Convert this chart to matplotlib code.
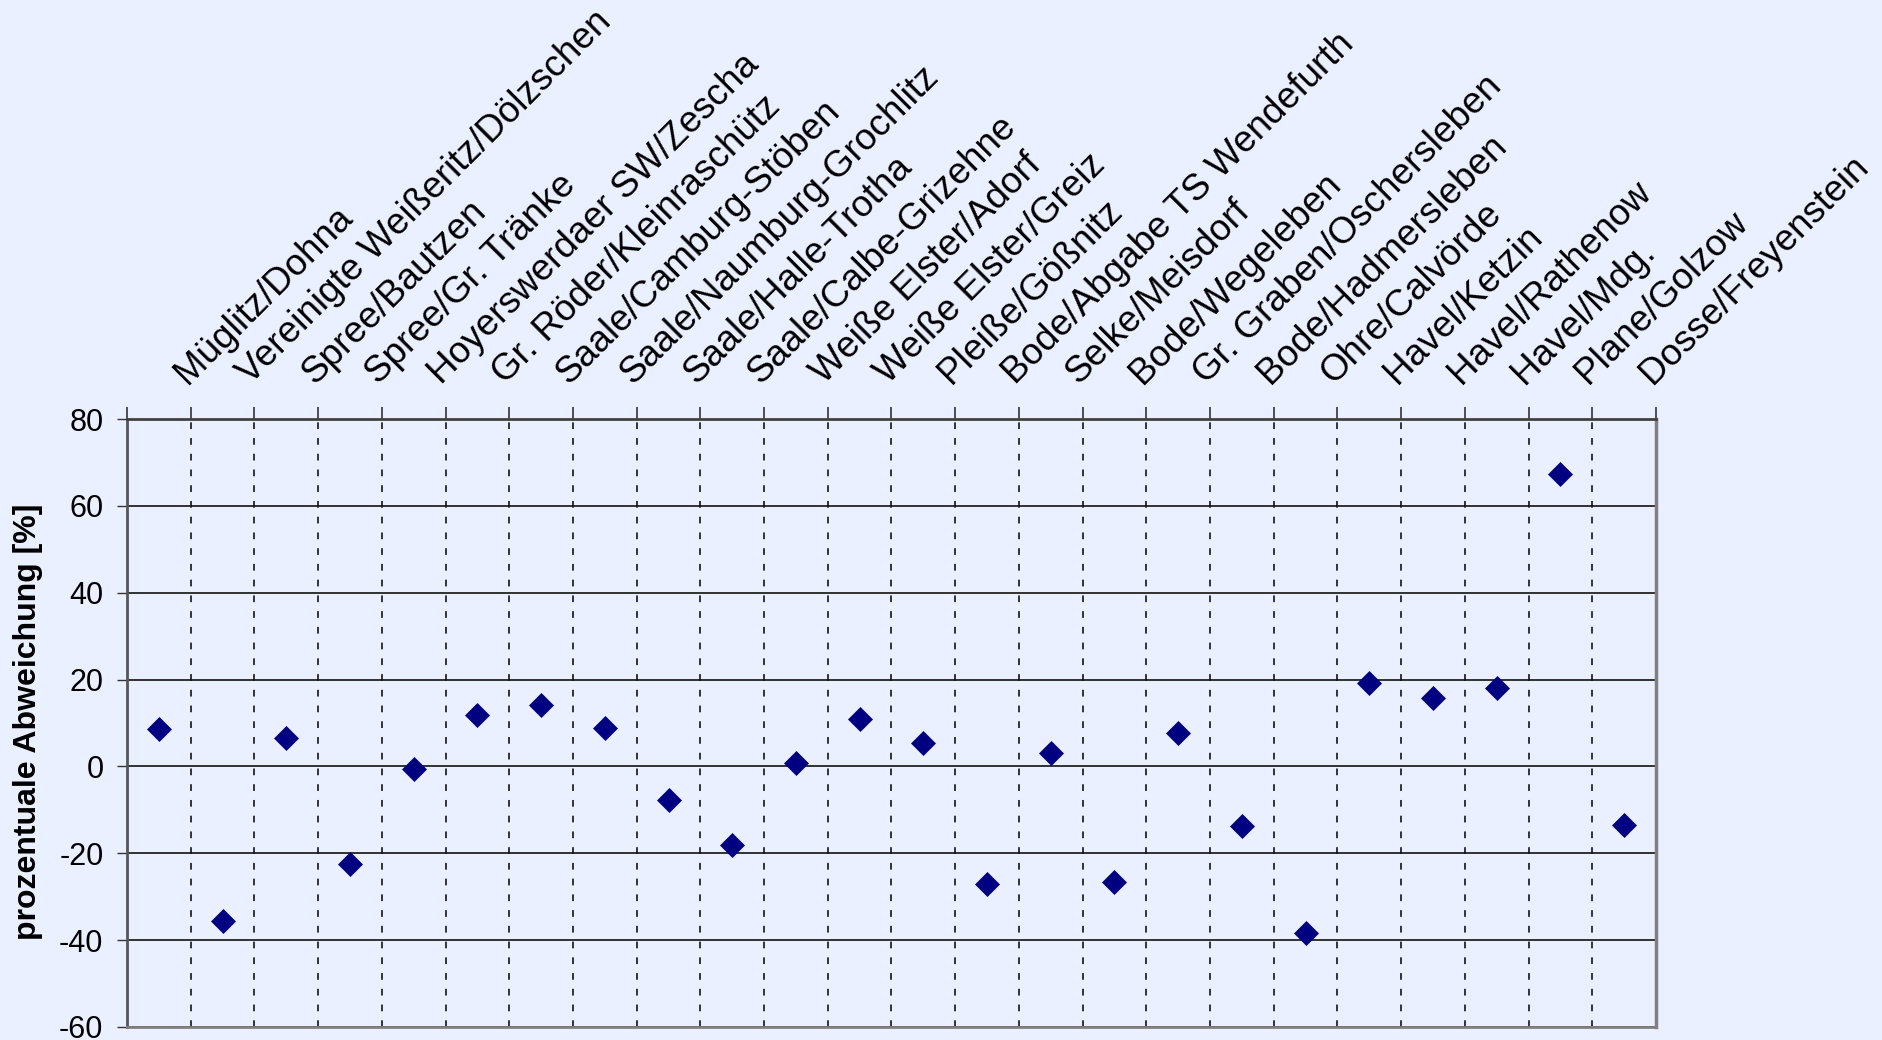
import matplotlib
matplotlib.use("Agg")
import matplotlib.pyplot as plt
from matplotlib.transforms import ScaledTranslation, blended_transform_factory

# stations (Pegel) and percentage deviation
stations = [
    "Müglitz/Dohna", "Vereinigte Weißeritz/Dölzschen", "Spree/Bautzen",
    "Spree/Gr. Tränke", "Hoyerswerdaer SW/Zescha", "Gr. Röder/Kleinraschütz",
    "Saale/Camburg-Stöben", "Saale/Naumburg-Grochlitz", "Saale/Halle-Trotha",
    "Saale/Calbe-Grizehne", "Weiße Elster/Adorf", "Weiße Elster/Greiz",
    "Pleiße/Gößnitz", "Bode/Abgabe TS Wendefurth", "Selke/Meisdorf",
    "Bode/Wegeleben", "Gr. Graben/Oschersleben", "Bode/Hadmersleben",
    "Ohre/Calvörde", "Havel/Ketzin", "Havel/Rathenow", "Havel/Mdg.",
    "Plane/Golzow", "Dosse/Freyenstein",
]
deviation = [
    8.6, -35.6, 6.6, -22.4, -0.6, 11.9,
    14.1, 8.8, -7.7, -18.2, 0.8, 11.0,
    5.5, -27.1, 3.0, -26.5, 7.7, -13.8,
    -38.4, 19.1, 15.7, 18.0, 67.4, -13.5,
]
y_ticks = [-60, -40, -20, 0, 20, 40, 60, 80]

BG = "#EAF0FF"
plt.rcParams["font.family"] = ["Liberation Sans", "DejaVu Sans"]

fig = plt.figure(figsize=(18.82, 10.40), dpi=100, facecolor=BG)
ax = fig.add_axes([127 / 1882, 1 - 1027 / 1040, (1656 - 127) / 1882, (1027 - 419) / 1040])
ax.set_facecolor(BG)

n = len(stations)
xs = list(range(n))

ax.plot(xs, deviation, linestyle="none", marker="D", markersize=12,
        color="#000080", markeredgecolor="#000080", markeredgewidth=0.5,
        zorder=5, clip_on=False)

ax.set_xlim(-0.5, n - 0.5)
ax.set_ylim(y_ticks[0], y_ticks[-1])
ax.set_yticks(y_ticks)
ax.set_yticklabels([str(v) for v in y_ticks], fontsize=22)
ax.tick_params(axis="y", direction="out", length=7, width=1, color="#333333", pad=10)

# category boundaries on top with outward ticks and dashed grid
bounds = [i - 0.5 for i in range(n + 1)]
ax.set_xticks(bounds)
ax.set_xticklabels([])
ax.xaxis.tick_top()
ax.tick_params(axis="x", direction="out", length=9, width=1.2, color="#333333")
ax.grid(axis="x", color="black", linestyle=(0, (4.4, 5.9)), linewidth=1.1)
ax.grid(axis="y", color="#111111", linestyle="-", linewidth=1.2)
ax.set_axisbelow(True)

for side, col, lw in [("left", "#555555", 2.0), ("top", "#404040", 2.0),
                      ("right", "#808080", 2.5), ("bottom", "#808080", 2.0)]:
    ax.spines[side].set_color(col)
    ax.spines[side].set_linewidth(lw)

# rotated station names above the plot
trans = blended_transform_factory(ax.transData, ax.transAxes)
offset = ScaledTranslation(28 / 100, 34 / 100, fig.dpi_scale_trans)
for x, name in zip(xs, stations):
    ax.text(x, 1.0, name, transform=trans + offset, rotation=45,
            rotation_mode="anchor", ha="left", va="baseline", fontsize=26.6,
            color="black")

fig.text(28 / 1882, 1 - 722 / 1040, "prozentuale Abweichung [%]", rotation=90,
         ha="center", va="center", fontsize=23, fontweight="bold")

fig.savefig("out.png", dpi=100, facecolor=BG)
